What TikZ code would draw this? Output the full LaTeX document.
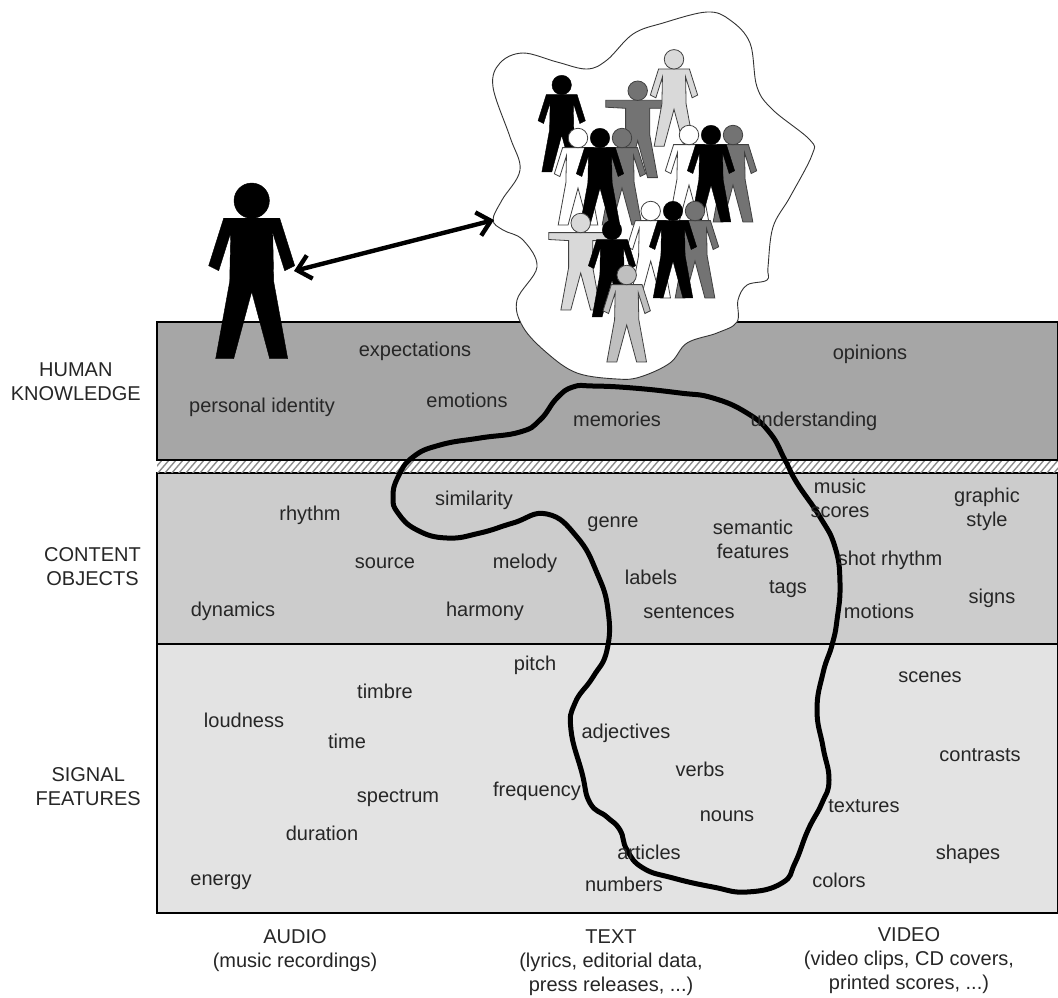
\documentclass[tikz,border=0pt]{standalone}
\usepackage{fontspec}
\setmainfont{Liberation Sans}
\usetikzlibrary{arrows.meta}
\tikzset{
    side/.style={inner sep=0pt, align=center, text=black!85, font=\fontsize{20}{24}\selectfont},
    lbl/.style={side, text height=13pt, text depth=5pt, yshift=-2.5pt},
    band/.style={draw=black, line width=1.3pt},
    blob/.style={draw=black!80, fill=white, line width=0.9pt},
    hatch/.style={draw=black!45, line width=1.4pt},
    blackman/.style={fill=black, draw=black},
    darkman/.style={fill=black!55, draw=black!75, line width=0.8pt},
    whiteman/.style={fill=white, draw=black!75, line width=0.8pt},
    lightman/.style={fill=black!15, draw=black!75, line width=0.8pt},
    paleman/.style={fill=black!25, draw=black!75, line width=0.8pt},
    loopline/.style={draw=black, line width=5pt},
    barb/.style={line width=4.4pt, {Straight Barb[length=13pt,width=24pt]}-{Straight Barb[length=13pt,width=24pt]}}
}
% person: head at (x,y), scale, style
\newcommand{\person}[4]{
    \begin{scope}[shift={(#1,#2)}, scale=#3]
        \path[#4] (-28,17.5) -- (28,17.5) -- (43,65) -- (33,70) -- (21,32) -- (22,81)
            -- (36,158) -- (18,158) -- (0,91) -- (-18,158) -- (-36,158) -- (-22,81)
            -- (-21,32) -- (-33,70) -- (-43,65) -- cycle;
        \path[#4] (0,0) circle (17.7);
    \end{scope}
}
% person with arms held out
\newcommand{\armsman}[4]{
    \begin{scope}[shift={(#1,#2)}, scale=#3]
        \path[#4] (-58,17.5) -- (58,17.5) -- (58,32) -- (22,32) -- (22,81)
            -- (36,158) -- (18,158) -- (0,91) -- (-18,158) -- (-36,158) -- (-22,81)
            -- (-22,32) -- (-58,30) -- cycle;
        \path[#4] (0,0) circle (17.7);
    \end{scope}
}
\begin{document}
\begin{tikzpicture}[x=1pt, y=-1pt]
    \useasboundingbox (0,0) rectangle (1058,997);

    % bands
    \path[band, fill=black!35] (157,322) rectangle (1058,460);
    \path[band, fill=black!20] (157,473) rectangle (1058,644);
    \path[band, fill=black!11] (157,644) rectangle (1058,913);
    \begin{scope}
        \clip (157,461) rectangle (1058,472);
        \foreach \x in {150,157,...,1070}
            \path[hatch] (\x,474) -- (\x+13,459);
    \end{scope}

    % crowd
    \path[blob] plot[smooth cycle, tension=0.6] coordinates {
        (523,53) (557,62) (587,69) (607,60) (633,34) (663,23) (707,12) (730,20)
        (750,43) (757,87) (773,110) (810,140) (812,155) (790,197) (773,227) (768,267)
        (767,280) (747,285) (738,300) (737,322) (717,333) (687,343) (670,363) (640,377)
        (617,379) (577,373) (547,353) (523,327) (517,300) (537,267) (523,240) (503,230)
        (493,220) (502,200) (520,170) (510,137) (493,87) (500,63)};
    \person{561.7}{85}{0.55}{blackman}
    \armsman{637.7}{90.7}{0.55}{darkman}
    \person{674}{59.3}{0.55}{lightman}
    \person{578}{138}{0.55}{whiteman}
    \person{622}{138}{0.55}{darkman}
    \person{600}{138}{0.55}{blackman}
    \person{689}{135}{0.55}{whiteman}
    \person{733}{135}{0.55}{darkman}
    \person{711}{135}{0.55}{blackman}
    \person{650.7}{211}{0.55}{whiteman}
    \person{695}{211}{0.55}{darkman}
    \person{673}{211}{0.55}{blackman}
    \armsman{580.7}{223}{0.55}{lightman}
    \person{612}{230}{0.55}{blackman}
    \person{626.7}{275}{0.55}{paleman}

    % listener
    \person{251.7}{200.7}{1}{blackman}
    \coordinate (listener) at (294,271);
    \coordinate (crowd) at (494,220);
    \draw[barb] (listener) -- (crowd);

    % music loop
    \path[loopline] plot[smooth cycle, tension=0.8] coordinates {
        (593,386) (633,388) (680,393) (713,398) (747,413) (770,433) (785,460) (797,483)
        (820,517) (835,547) (840,583) (837,620) (832,645) (823,673) (817,710) (823,747)
        (829,780) (822,803) (808,830) (795,863) (782,883) (747,892) (713,887) (673,878)
        (643,868) (627,850) (620,830) (607,817) (590,803) (582,773) (571,730) (575,703)
        (593,677) (607,650) (608,610) (597,573) (577,537) (547,514) (513,523) (480,533)
        (447,538) (417,530) (398,513) (393,497) (398,477) (413,457) (440,445) (480,438)
        (520,432) (540,420) (557,398) (573,387)};

    % human knowledge
    \node[lbl] (expectations) at (415,350) {expectations};
    \node[lbl] (opinions) at (870,353) {opinions};
    \node[lbl] (identity) at (262,406) {personal identity};
    \node[lbl] (emotions) at (467,401) {emotions};
    \node[lbl] (memories) at (617,420) {memories};
    \node[lbl] (understanding) at (814,420) {understanding};

    % content objects
    \node[lbl] (rhythm) at (310,514) {rhythm};
    \node[lbl] (similarity) at (474,499) {similarity};
    \node[lbl] (genre) at (613,521) {genre};
    \node[side] (semantic) at (753,539) {semantic\\features};
    \node[side] (scores) at (840,498) {music\\scores};
    \node[side] (graphic) at (987,509) {graphic\\style};
    \node[lbl] (source) at (385,562) {source};
    \node[lbl] (melody) at (525,562) {melody};
    \node[lbl] (shot) at (890,559) {shot rhythm};
    \node[lbl] (labels) at (651,578) {labels};
    \node[lbl] (tags) at (788,587) {tags};
    \node[lbl] (signs) at (992,597) {signs};
    \node[lbl] (dynamics) at (233,610) {dynamics};
    \node[lbl] (harmony) at (485,610) {harmony};
    \node[lbl] (sentences) at (689,612) {sentences};
    \node[lbl] (motions) at (879,612) {motions};

    % signal features
    \node[lbl] (pitch) at (535,664) {pitch};
    \node[lbl] (timbre) at (385,692) {timbre};
    \node[lbl] (scenes) at (930,676) {scenes};
    \node[lbl] (loudness) at (244,721) {loudness};
    \node[lbl] (adjectives) at (626,732) {adjectives};
    \node[lbl] (time) at (347,742) {time};
    \node[lbl] (contrasts) at (980,755) {contrasts};
    \node[lbl] (verbs) at (700,770) {verbs};
    \node[lbl] (spectrum) at (398,796) {spectrum};
    \node[lbl] (frequency) at (537,790) {frequency};
    \node[lbl] (textures) at (864,806) {textures};
    \node[lbl] (nouns) at (727,815) {nouns};
    \node[lbl] (duration) at (322,834) {duration};
    \node[lbl] (articles) at (649,853) {articles};
    \node[lbl] (shapes) at (968,853) {shapes};
    \node[lbl] (energy) at (221,879) {energy};
    \node[lbl] (colors) at (839,881) {colors};
    \node[lbl] (numbers) at (624,885) {numbers};

    % row names
    \node[side, anchor=east] (human) at (141,382) {HUMAN\\KNOWLEDGE};
    \node[side, anchor=east] (content) at (141,567) {CONTENT\\OBJECTS};
    \node[side, anchor=east] (signal) at (141,787) {SIGNAL\\FEATURES};

    % column names
    \node[side] (audio) at (295,951) {AUDIO\\(music recordings)};
    \node[side] (text) at (611,963) {TEXT\\(lyrics, editorial data,\\press releases, ...)};
    \node[side] (video) at (909,961) {VIDEO\\(video clips, CD covers,\\printed scores, ...)};
\end{tikzpicture}
\end{document}
